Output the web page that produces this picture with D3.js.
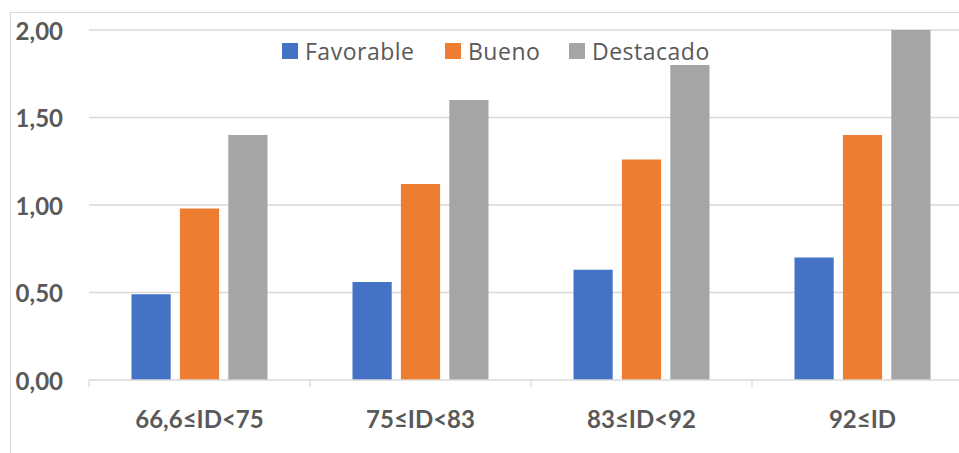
<!DOCTYPE html>
<html>
<head>
<meta charset="utf-8">
<script src="https://cdn.jsdelivr.net/npm/d3@7"></script>
<style>
  html, body { margin: 0; padding: 0; background: #fff; }
  svg { display: block; }
  text { font-family: Lato, "Open Sans", sans-serif; fill: #595959; }
</style>
</head>
<body>
<svg id="chart" width="959" height="453"></svg>
<script>
const categories = ["66,6≤ID<75", "75≤ID<83", "83≤ID<92", "92≤ID"];
const seriesNames = ["Favorable", "Bueno", "Destacado"];
const favorable = [0.49, 0.56, 0.63, 0.70];
const bueno = [0.98, 1.12, 1.26, 1.40];
const destacado = [1.40, 1.60, 1.80, 2.00];
const yTicks = [0, 0.5, 1.0, 1.5, 2.0];
const colors = ["#4472C4", "#ED7D31", "#A5A5A5"];

const seriesValues = [favorable, bueno, destacado];
const data = categories.map((c, i) => ({
  cat: c,
  values: seriesNames.map((s, j) => ({ series: s, value: seriesValues[j][i] }))
}));

const svg = d3.select("#chart");

// chart area border
svg.append("rect")
  .attr("x", 10.5).attr("y", 12.5)
  .attr("width", 1000).attr("height", 500)
  .attr("fill", "none").attr("stroke", "#d9d9d9").attr("stroke-width", 1);

const plotLeft = 89, catW = 221;
const x0 = d3.scaleBand().domain(categories)
  .range([plotLeft, plotLeft + catW * categories.length])
  .paddingInner(0).paddingOuter(0);
const groupW = 136;
const x1 = d3.scaleBand().domain(seriesNames)
  .range([(catW - groupW) / 2, (catW + groupW) / 2])
  .paddingInner(0.19).paddingOuter(0);
const y = d3.scaleLinear().domain([0, 2]).range([380, 30]);
const fmt = d => d3.format(".2f")(d).replace(".", ",");

// gridlines
svg.append("g").selectAll("line")
  .data(yTicks.filter(t => t > 0))
  .join("line")
  .attr("x1", plotLeft).attr("x2", 980)
  .attr("y1", d => y(d)).attr("y2", d => y(d))
  .attr("stroke", "#d9d9d9").attr("stroke-width", 1.3);

// y labels
svg.append("g").selectAll("text")
  .data(yTicks)
  .join("text")
  .attr("x", 63).attr("y", d => y(d))
  .attr("text-anchor", "end")
  .attr("dominant-baseline", "central")
  .attr("font-size", 24).attr("font-weight", "bold")
  .text(fmt);

// bars
const groups = svg.append("g").selectAll("g")
  .data(data).join("g")
  .attr("transform", d => `translate(${x0(d.cat)},0)`);
groups.selectAll("rect")
  .data(d => d.values).join("rect")
  .attr("x", d => x1(d.series))
  .attr("width", x1.bandwidth())
  .attr("y", d => y(d.value))
  .attr("height", d => y(0) - y(d.value))
  .attr("fill", (d, i) => colors[i]);

// x axis line + ticks
const xAxis = svg.append("g");
xAxis.append("line")
  .attr("x1", plotLeft).attr("x2", 980)
  .attr("y1", y(0)).attr("y2", y(0))
  .attr("stroke", "#d9d9d9").attr("stroke-width", 1.3);
xAxis.selectAll("line.tick")
  .data(categories.map(c => x0(c)).concat([x0(categories[categories.length - 1]) + x0.bandwidth()]))
  .join("line").attr("class", "tick")
  .attr("x1", d => d).attr("x2", d => d)
  .attr("y1", y(0)).attr("y2", y(0) + 7)
  .attr("stroke", "#d9d9d9").attr("stroke-width", 1.3);
xAxis.selectAll("text")
  .data(categories).join("text")
  .attr("x", d => x0(d) + x0.bandwidth() / 2)
  .attr("y", 418)
  .attr("text-anchor", "middle")
  .attr("dominant-baseline", "central")
  .attr("font-size", 24).attr("font-weight", "bold")
  .text(d => d);

// legend
const legendX = [282, 445, 569];
const legend = svg.append("g").selectAll("g")
  .data(seriesNames).join("g")
  .attr("transform", (d, i) => `translate(${legendX[i]},43)`);
legend.append("rect")
  .attr("width", 16).attr("height", 16)
  .attr("fill", (d, i) => colors[i]);
legend.append("text")
  .attr("x", 23).attr("y", 8)
  .attr("dominant-baseline", "central")
  .attr("font-size", 23)
  .attr("letter-spacing", 0.5)
  .style("font-family", "'Open Sans', Lato, sans-serif")
  .text(d => d);
</script>
</body>
</html>
